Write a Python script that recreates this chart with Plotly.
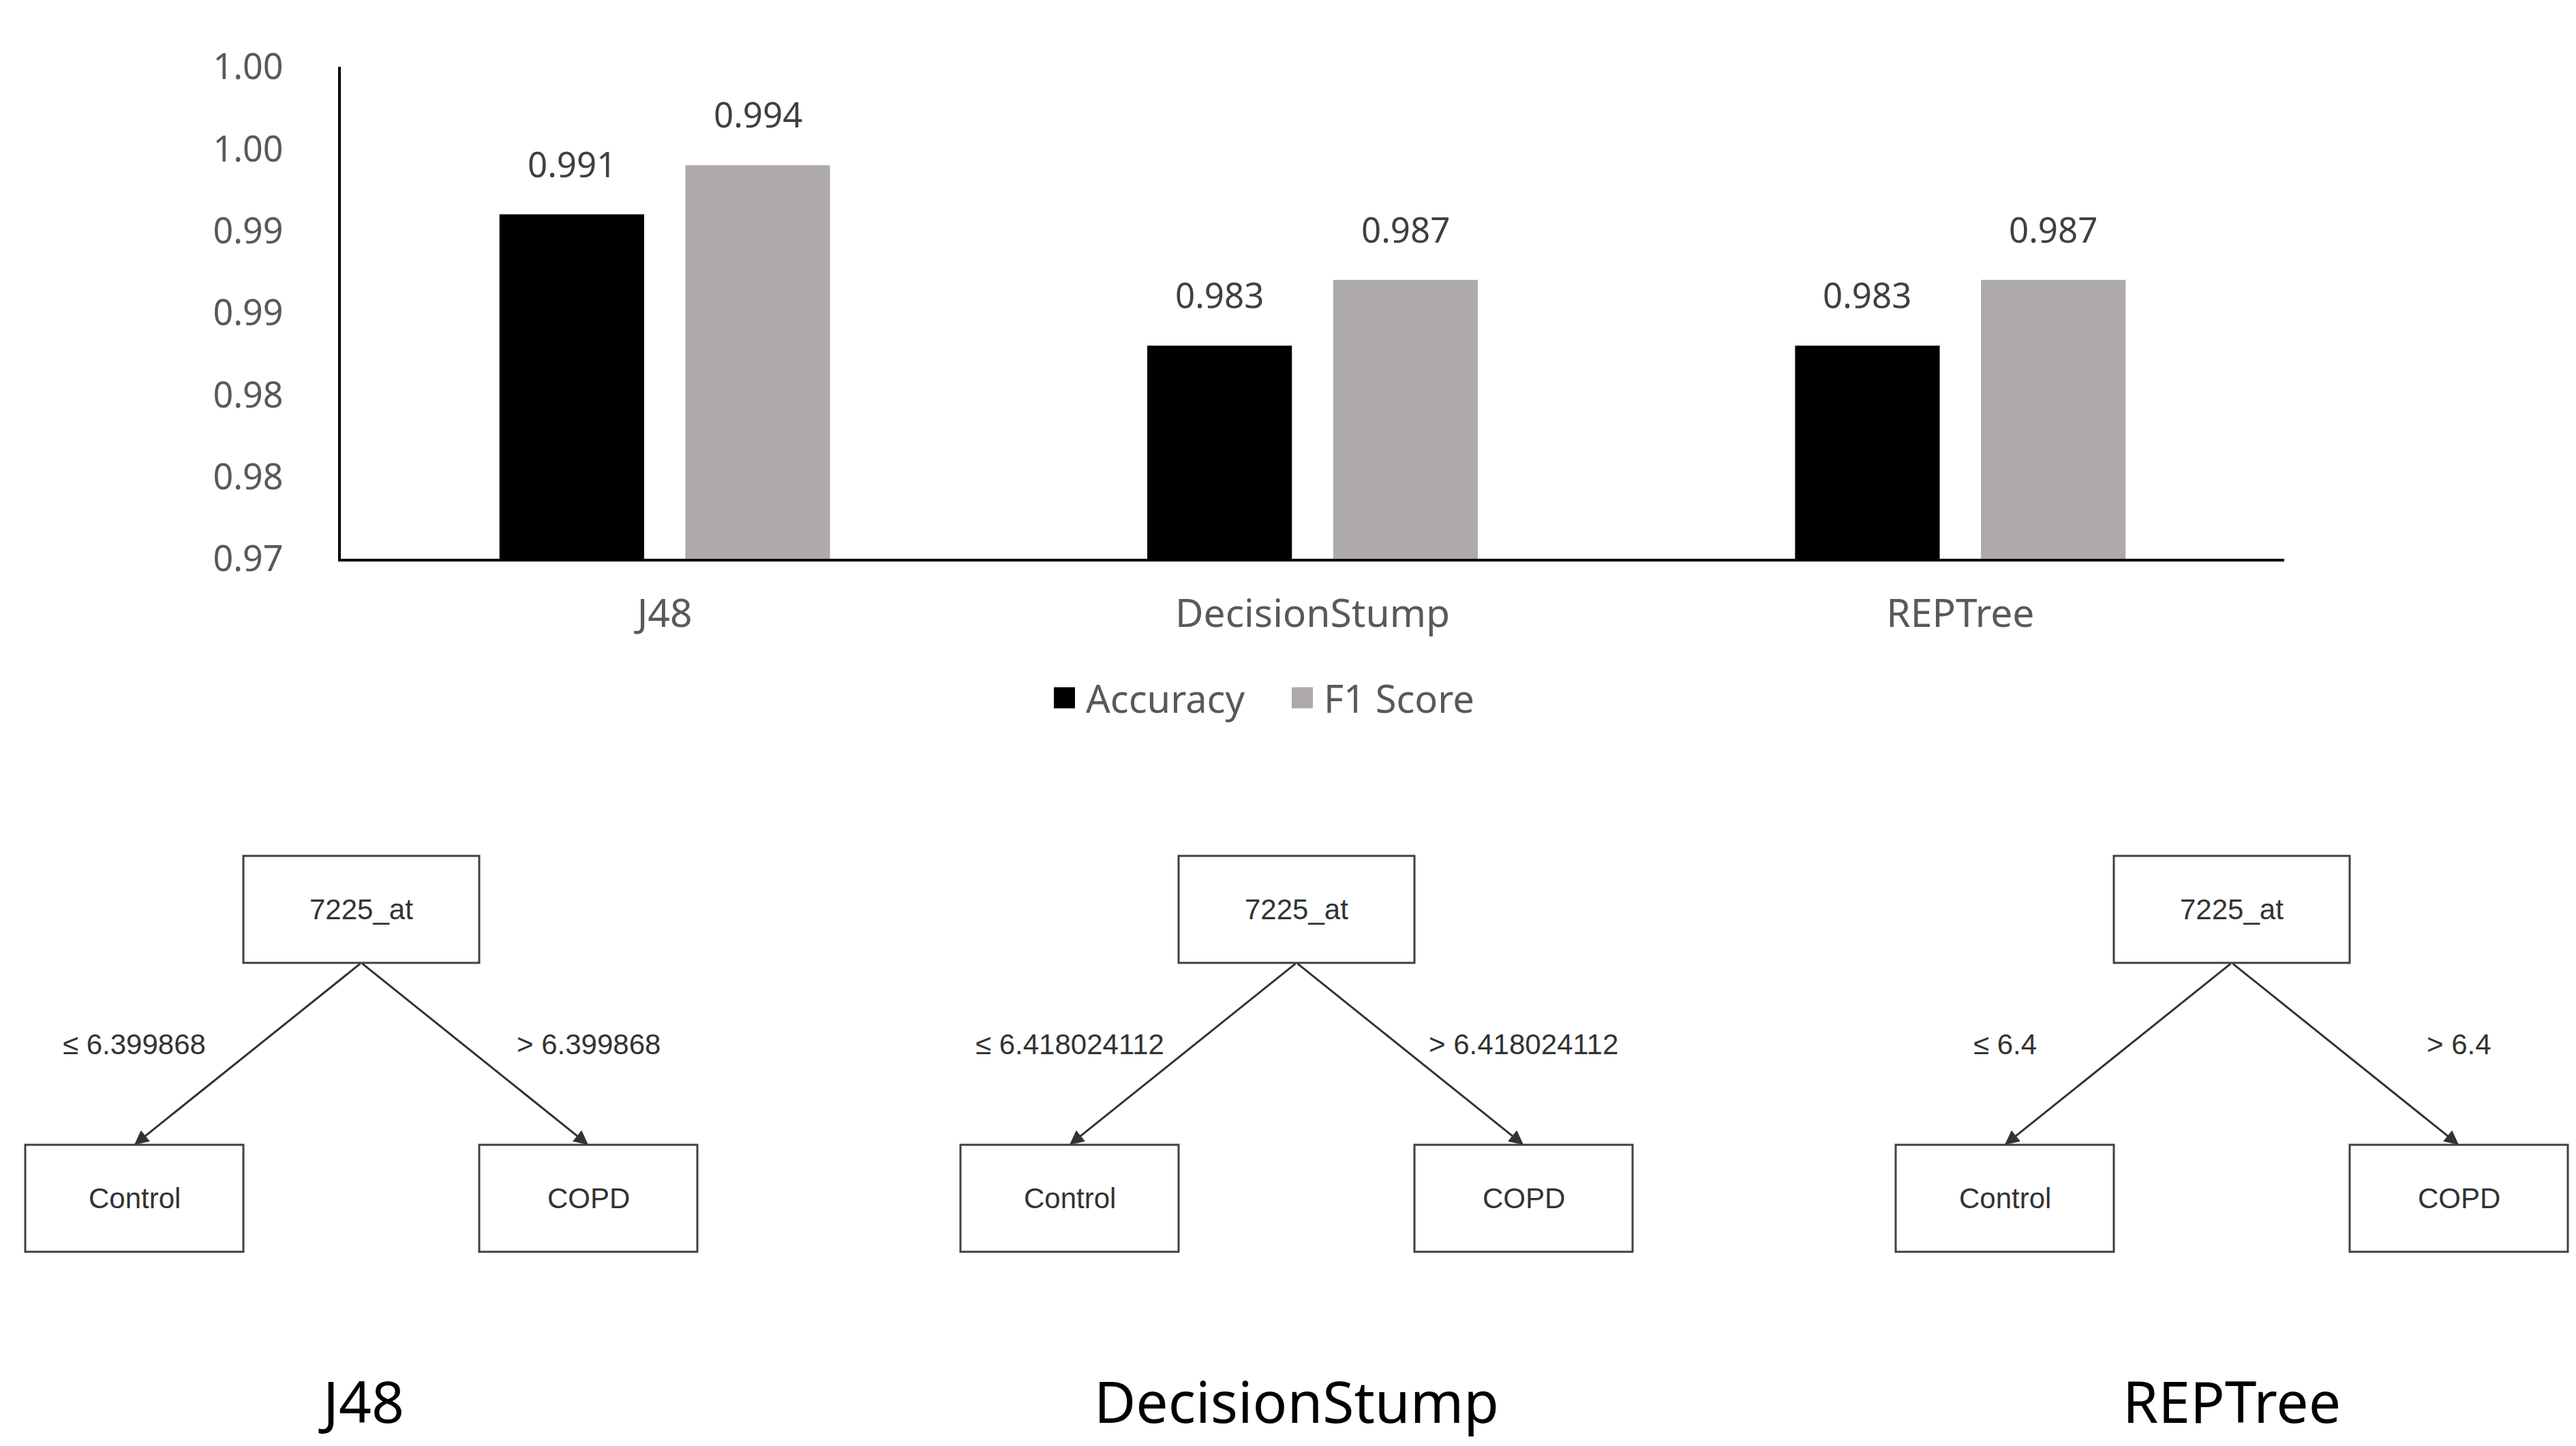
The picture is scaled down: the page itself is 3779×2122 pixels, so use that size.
import plotly.graph_objects as go

W, H = 3779, 2122

# chart data
categories = ["J48", "DecisionStump", "REPTree"]
accuracy = [0.991, 0.983, 0.983]
f1_score = [0.994, 0.987, 0.987]
series_names = ["Accuracy", "F1 Score"]
series_colors = ["#000000", "#AEAAAA"]

y_tickvals = [0.970, 0.975, 0.980, 0.985, 0.990, 0.995, 1.000]
y_ticktext = ["0.97", "0.98", "0.98", "0.99", "0.99", "1.00", "1.00"]

# decision trees (one per classifier)
tree_attribute = ["7225_at", "7225_at", "7225_at"]
tree_left_rule = ["\u2264 6.399868", "\u2264 6.418024112", "\u2264 6.4"]
tree_right_rule = ["> 6.399868", "> 6.418024112", "> 6.4"]
tree_left_leaf = ["Control", "Control", "Control"]
tree_right_leaf = ["COPD", "COPD", "COPD"]

# layout (pixels)
PLOT_L, PLOT_R, PLOT_T, PLOT_B = 492, 3343, 90, 812
BARGAP, GROUPGAP = 0.426, 0.222
CHART_FONT = "Noto Sans"
TREE_FONT = "Liberation Sans"


def px(x, y):
    return x / W, 1 - y / H


fig = go.Figure()
for name, vals, col in zip(series_names, [accuracy, f1_score], series_colors):
    fig.add_trace(go.Bar(x=categories, y=vals, name=name, marker_color=col,
                         marker_line_width=0, showlegend=False))

annotations = []
shapes = []

# data labels above bars
cat_w = (PLOT_R - PLOT_L) / len(categories)
slot = cat_w * (1 - BARGAP) / 2
for i, vals in enumerate([accuracy, f1_score]):
    shift = (i - 0.5) * slot
    for c, v in zip(categories, vals):
        annotations.append(dict(x=c, y=v, xref="x", yref="y", text=f"{v:.3f}",
                                showarrow=False, xshift=shift, yshift=38,
                                xanchor="center", yanchor="bottom",
                                font=dict(family=CHART_FONT, size=51, color="#404040")))

# legend (drawn by hand so the swatches match the size of the original)
leg_y = 1016
leg_x = [1538, 1887]
sw = 31
for lx, name, col in zip(leg_x, series_names, series_colors):
    x0, y0 = px(lx, leg_y - sw / 2)
    x1, y1 = px(lx + sw, leg_y + sw / 2)
    shapes.append(dict(type="rect", xref="paper", yref="paper", x0=x0, x1=x1,
                       y0=y0, y1=y1, fillcolor=col, line_width=0))
    tx, ty = px(lx + sw + 14, leg_y)
    annotations.append(dict(x=tx, y=ty, xref="paper", yref="paper", text=name,
                            showarrow=False, xanchor="left", yanchor="middle",
                            font=dict(family=CHART_FONT, size=56, color="#595959")))

# trees
tree_cx = [522, 1894, 3266]
root_w, leaf_w, box_h = 346, 320, 157
root_top, leaf_top = 1248, 1672
leaf_dx = 333
rule_y = 1524
label_y = 2047
box_line = dict(color="#404040", width=3)
tree_txt = dict(family=TREE_FONT, size=42, color="#333333")


def centred(x, y, text, font):
    cx, cy = px(x, y)
    return dict(x=cx, y=cy, xref="paper", yref="paper", text=text, showarrow=False,
                xanchor="center", yanchor="middle", font=font)


for k, cx in enumerate(tree_cx):
    boxes = [
        (cx, root_w, root_top, tree_attribute[k]),
        (cx - leaf_dx, leaf_w, leaf_top, tree_left_leaf[k]),
        (cx + leaf_dx, leaf_w, leaf_top, tree_right_leaf[k]),
    ]
    for bx, bw, by, txt in boxes:
        x0, y0 = px(bx - bw / 2, by)
        x1, y1 = px(bx + bw / 2, by + box_h)
        shapes.append(dict(type="rect", xref="paper", yref="paper", x0=x0, x1=x1,
                           y0=y0, y1=y1, line=box_line, fillcolor="white"))
        annotations.append(centred(bx, by + box_h / 2, txt, tree_txt))
    for side, rule in [(-1, tree_left_rule[k]), (1, tree_right_rule[k])]:
        hx = cx + side * leaf_dx
        ax_, ay_ = px(hx, leaf_top)
        annotations.append(dict(x=ax_, y=ay_, xref="paper", yref="paper", text="",
                                showarrow=True, arrowhead=2, arrowsize=1.4,
                                arrowwidth=3, arrowcolor="#333333", standoff=0,
                                ax=cx - hx, ay=(root_top + box_h) - leaf_top))
        annotations.append(centred(hx, rule_y, rule, tree_txt))
    annotations.append(centred(cx, label_y, categories[k],
                               dict(family=CHART_FONT, size=84, color="#000000")))

fig.update_layout(
    width=W, height=H,
    margin=dict(l=0, r=0, t=0, b=0),
    paper_bgcolor="white", plot_bgcolor="white",
    barmode="group", bargap=BARGAP, bargroupgap=GROUPGAP,
    xaxis=dict(domain=[PLOT_L / W, PLOT_R / W], showline=True, linecolor="#000000",
               linewidth=4, showgrid=False, ticks="", ticklabelstandoff=28,
               tickfont=dict(family=CHART_FONT, size=57, color="#595959"),
               automargin=False),
    yaxis=dict(domain=[1 - PLOT_B / H, 1 - PLOT_T / H], range=[0.97, 1.0],
               tickvals=y_tickvals, ticktext=y_ticktext, showline=True,
               linecolor="#000000", linewidth=4, showgrid=False, zeroline=False,
               ticks="", ticklabelstandoff=70,
               tickfont=dict(family=CHART_FONT, size=52, color="#595959"),
               automargin=False),
    shapes=shapes,
    annotations=annotations,
)

fig.write_html("out.html")
